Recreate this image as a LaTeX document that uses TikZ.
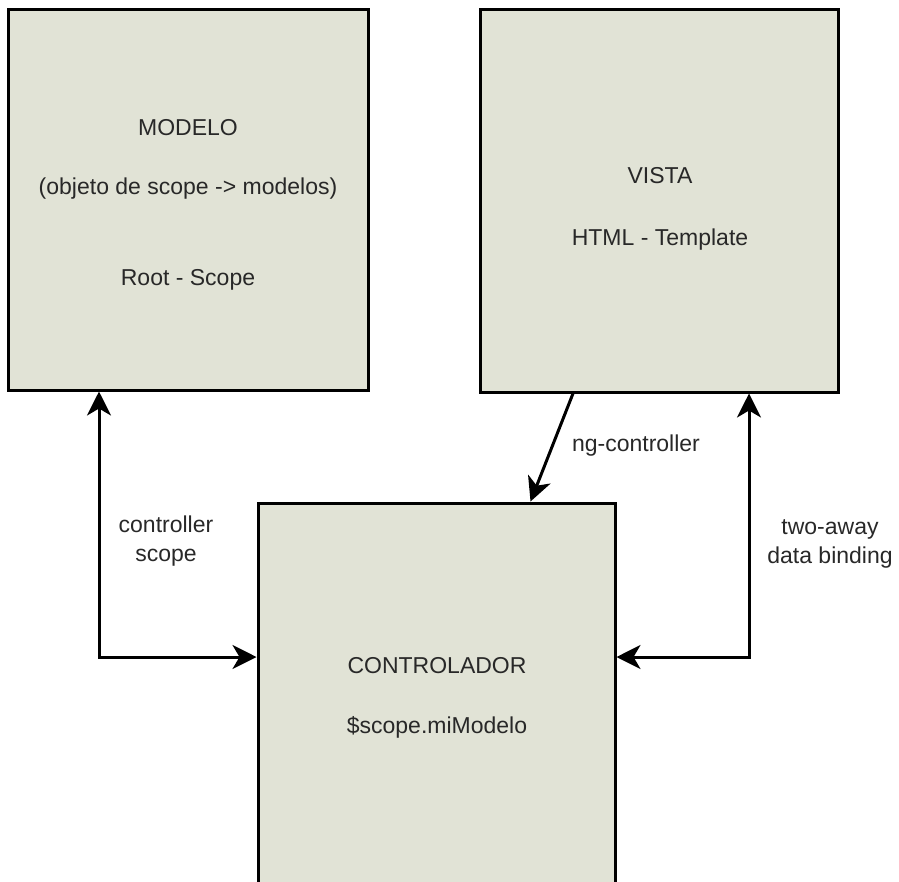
\documentclass[tikz,border=0pt]{standalone}
\usepackage{fontspec}
\setmainfont{Liberation Sans}
\usepackage{tikz}
\usetikzlibrary{arrows.meta}
\definecolor{boxfill}{RGB}{225,227,214}
\definecolor{ink}{RGB}{40,40,40}
\tikzstyle{block}=[rectangle, fill=boxfill, draw=black, line width=3pt, inner sep=0pt]
\tikzstyle{txt} = [anchor=base, text=ink, inner sep=0pt, font=\fontsize{23}{29}\selectfont]
\tikzstyle{lbl} = [txt, align=center, anchor=center]
\tikzstyle{edge} = [draw, line width=3pt, black, {Stealth[length=24pt,width=24pt,inset=7pt]}-{Stealth[length=24pt,width=24pt,inset=7pt]}]
\tikzstyle{oneway} = [edge, -{Stealth[length=24pt,width=24pt,inset=7pt]}]

\begin{document}
\begin{tikzpicture}[x=1pt, y=-1pt]
	\useasboundingbox (0,0) rectangle (899,881);
	\clip (0,0) rectangle (899,881);

	\node[block, minimum width=360pt, minimum height=381pt] (b_1) at (188, 199.5) {};
	\node[block, minimum width=358pt, minimum height=383pt] (b_2) at (659, 200.5) {};
	\node[block, minimum width=357pt, minimum height=390pt] (b_3) at (436.5, 698) {};

	\node[txt] (t_1) at (188, 135) {MODELO};
	\node[txt] (t_2) at (188, 194) {(objeto de scope -> modelos)};
	\node[txt] (t_3) at (188, 285) {Root - Scope};

	\node[txt] (t_4) at (660, 183) {VISTA};
	\node[txt] (t_5) at (660, 245) {HTML - Template};

	\node[txt] (t_6) at (437, 673) {CONTROLADOR};
	\node[txt] (t_7) at (437, 733) {\$scope.miModelo};

	\draw[edge] ([xshift=-89pt]b_1.south) |- ([yshift=41pt]b_3.west);
	\draw[edge] ([xshift=90pt]b_2.south) |- ([yshift=41pt]b_3.east);
	\draw[oneway] ([xshift=-86pt]b_2.south) -- ([xshift=94pt]b_3.north);

	\node[lbl] (l_1) at (166, 541) {controller\\scope};
	\node[lbl] (l_2) at (830, 544) {two-away\\data binding};
	\node[lbl] (l_3) at (636, 446) {ng-controller};
\end{tikzpicture}
\end{document}
